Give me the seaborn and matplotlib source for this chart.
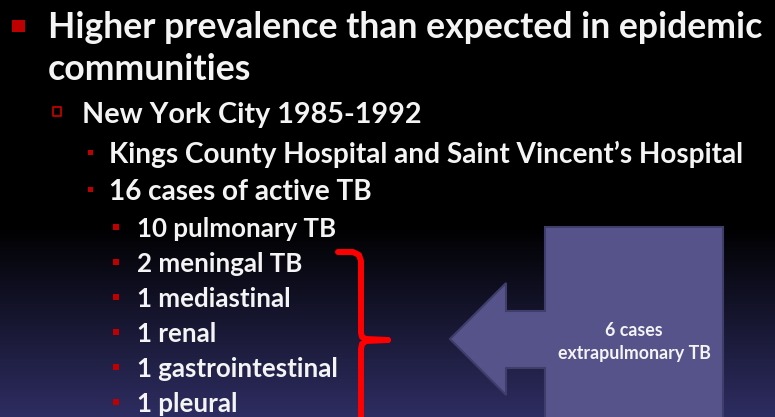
import numpy as np
import pandas as pd
import matplotlib
matplotlib.use("Agg")
import matplotlib.pyplot as plt
import seaborn as sns
from matplotlib.patches import Polygon

# ---- data (slide content) ----
headline = ["Higher prevalence than expected in epidemic", "communities"]
city_line = ["New York City 1985-1992"]
sub_points = ["Kings County Hospital and Saint Vincent\u2019s Hospital", "16 cases of active TB"]
case_counts = [10, 2, 1, 1, 1, 1]
case_sites = ["pulmonary TB", "meningal TB", "mediastinal", "renal", "gastrointestinal", "pleural"]
extra_label = "extrapulmonary TB"

sns.set_theme(style="dark")
plt.rcParams['font.family'] = ['Lato', 'DejaVu Sans']

W, H = 775, 417
fig = plt.figure(figsize=(W / 100, H / 100), dpi=100)
ax = fig.add_axes([0, 0, 1, 1])
ax.set_xlim(0, W)
ax.set_ylim(H, 0)
ax.axis("off")

# background gradient: black on top, dark indigo at bottom
col = np.zeros((417, 1, 3))
bottom = np.array([46, 45, 98]) / 255
t = np.clip((np.arange(417) - 225) / (417 - 225), 0, 1)
col[:, 0, :] = t[:, None] * bottom[None, :]
ax.imshow(col, extent=[0, W, H, 0], aspect="auto", zorder=0, interpolation="bilinear")

renderer = fig.canvas.get_renderer()
TXT = "#F4F4F4"


def fit_size(s, target, weight="bold"):
    t = ax.text(0, 0, s, fontsize=10, fontweight=weight)
    w = t.get_window_extent(renderer).width
    t.remove()
    return 10 * target / w


f1 = fit_size(headline[0], 720, "bold")
f2 = fit_size(city_line[0], 340)
f3 = fit_size(sub_points[0], 636)
case_labels = [f"{c} {s}" for c, s in zip(case_counts, case_sites)]
f4 = fit_size(case_labels[4], 200)

rows = []
for i, s in enumerate(headline):
    ax.text(48, 38 + 42 * i, s, fontsize=f1, fontweight="bold", color=TXT, va="baseline", zorder=3)
rows.append(dict(x=18.5, y=26, lvl="l1"))
for s in city_line:
    ax.text(82, 123, s, fontsize=f2, fontweight="bold", color=TXT, va="baseline", zorder=3)
rows.append(dict(x=57, y=111.5, lvl="l2"))
for i, s in enumerate(sub_points):
    ax.text(109, 163 + 37 * i, s, fontsize=f3, fontweight="bold", color=TXT, va="baseline", zorder=3)
    rows.append(dict(x=90.5, y=152.5 + 37 * i, lvl="l3"))
for i, s in enumerate(case_labels):
    ax.text(137, 237 + 35 * i, s, fontsize=f4, fontweight="bold", color=TXT, va="baseline", zorder=3)
    rows.append(dict(x=116, y=227 + 35 * i, lvl="l4"))

bul = pd.DataFrame(rows)
sns.scatterplot(data=bul[bul.lvl == "l1"], x="x", y="y", marker="s", s=80, color="#C00000",
                edgecolor="none", ax=ax, zorder=4, legend=False)
sns.scatterplot(data=bul[bul.lvl == "l2"], x="x", y="y", marker="s", s=40, facecolor="none",
                edgecolor="#C00000", linewidth=1.3, ax=ax, zorder=4, legend=False)
sns.scatterplot(data=bul[bul.lvl.isin(["l3", "l4"])], x="x", y="y", marker="s", s=18,
                color="#C00000", edgecolor="none", ax=ax, zorder=4, legend=False)

# red brace
bx = [338, 353, 359, 361, 361, 362, 366, 388]
by = [252, 252, 255, 261, 333, 337, 339, 340]
ax.plot(bx, by, color="#FF0000", lw=4.3, solid_capstyle="round", solid_joinstyle="round", zorder=3)
bx2 = [388, 366, 362, 361, 361]
by2 = [340, 341, 344, 349, 430]
ax.plot(bx2, by2, color="#FF0000", lw=4.3, solid_capstyle="round", solid_joinstyle="round", zorder=3)

# callout arrow box
pts = [(545, 227), (723, 227), (723, 425), (545, 425), (545, 368), (506, 368), (506, 395),
       (450, 339), (506, 283), (506, 311), (545, 311)]
ax.add_patch(Polygon(pts, closed=True, facecolor="#55538A", edgecolor="#3F3D6A", lw=1.5, zorder=2))
n_extra = sum(case_counts[1:])
f5 = fit_size(extra_label, 153, "bold")
ax.text(634, 336, f"{n_extra} cases", fontsize=f5, fontweight="bold", color=TXT, ha="center",
        va="baseline", zorder=3)
ax.text(634, 359, extra_label, fontsize=f5, fontweight="bold", color=TXT, ha="center",
        va="baseline", zorder=3)

fig.savefig("out.png", dpi=100, facecolor="black")
